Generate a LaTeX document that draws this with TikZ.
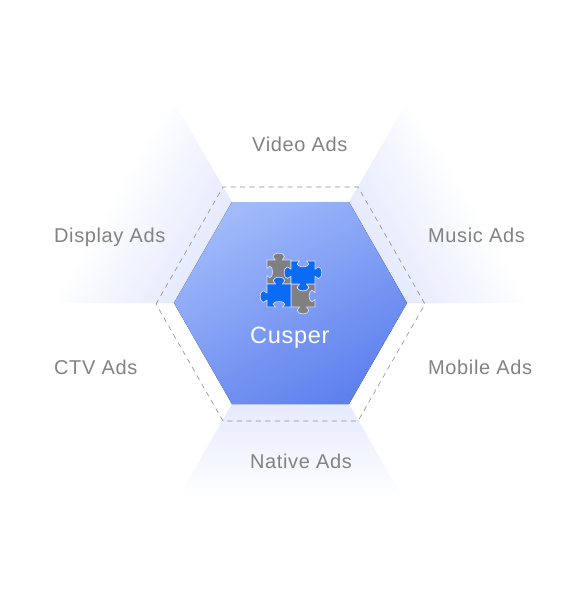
\documentclass[tikz,border=0pt]{standalone}
\usepackage{fontspec}
\setmainfont[LetterSpace=3.1]{Liberation Sans}
\definecolor{lab}{HTML}{828282}
\definecolor{fan}{HTML}{E5EAFD}
\definecolor{hexa}{HTML}{A0BAFA}
\definecolor{hexb}{HTML}{5F81EE}
\definecolor{dashc}{HTML}{8E8E8E}
\definecolor{pgray}{HTML}{808080}
\definecolor{pblue}{HTML}{0A6BF5}
\newcommand{\Kn}[7]{% centre x,y; along dx,dy; outward nx,ny; scale
 -- ({#1+(-3.4)*#3},{#2+(-3.4)*#4})
 .. controls ({#1+(-3.2)*#3+#7*1*#5},{#2+(-3.2)*#4+#7*1*#6}) and ({#1+(-5.8)*#3+#7*1.6*#5},{#2+(-5.8)*#4+#7*1.6*#6}) .. ({#1+(-5.8)*#3+#7*3.5*#5},{#2+(-5.8)*#4+#7*3.5*#6})
 .. controls ({#1+(-5.8)*#3+#7*5.5*#5},{#2+(-5.8)*#4+#7*5.5*#6}) and ({#1+(-3.2)*#3+#7*6.8*#5},{#2+(-3.2)*#4+#7*6.8*#6}) .. ({#1+#7*6.8*#5},{#2+#7*6.8*#6})
 .. controls ({#1+(3.2)*#3+#7*6.8*#5},{#2+(3.2)*#4+#7*6.8*#6}) and ({#1+(5.8)*#3+#7*5.5*#5},{#2+(5.8)*#4+#7*5.5*#6}) .. ({#1+(5.8)*#3+#7*3.5*#5},{#2+(5.8)*#4+#7*3.5*#6})
 .. controls ({#1+(5.8)*#3+#7*1.6*#5},{#2+(5.8)*#4+#7*1.6*#6}) and ({#1+(3.2)*#3+#7*1*#5},{#2+(3.2)*#4+#7*1*#6}) .. ({#1+(3.4)*#3},{#2+(3.4)*#4})
}
\tikzset{
  x=1pt,y=-1pt,
  adlabel/.style={anchor=base west,inner sep=0pt,text=lab,font=\fontsize{20}{23}\selectfont},
  grayp/.style={fill=pgray,draw=white!85!blue,line width=0.7pt,line join=round},
  bluep/.style={fill=pblue,draw=white!85!blue,line width=0.7pt,line join=round},
  fanrect/.style={left color=fan,middle color=fan!33!white,right color=white},
}
\begin{document}
\begin{tikzpicture}
\useasboundingbox (0,0) rectangle (583,608);
\coordinate (i1) at (174,303);
\coordinate (i2) at (232,202);
\coordinate (i3) at (349,202);
\coordinate (i4) at (407,303);
\coordinate (i5) at (349,404);
\coordinate (i6) at (232,404);
\coordinate (o1) at (156,304);
\coordinate (o2) at (223,187);
\coordinate (o3) at (358,187);
\coordinate (o4) at (425,304);
\coordinate (o5) at (358,421);
\coordinate (o6) at (223,421);
% fans
\begin{scope}
 \clip (i4) -- (i3) -- (405,105) -- (560,303) -- cycle;
 \shade[fanrect,transform canvas={shift={(i4)},rotate=30}] (0,-260) rectangle (108,260);
\end{scope}
\begin{scope}
 \clip (i1) -- (i2) -- (176,105) -- (21,303) -- cycle;
 \shade[fanrect,transform canvas={shift={(i1)},rotate=150}] (0,-260) rectangle (108,260);
\end{scope}
\begin{scope}
 \clip (i6) -- (i5) -- (403,498) -- (178,498) -- cycle;
 \shade[fanrect,transform canvas={shift={(i6)},rotate=-90}] (0,-260) rectangle (94,260);
\end{scope}
% hexagon
\fill[top color=hexa,bottom color=hexb,shading angle=30] (i1) -- (i2) -- (i3) -- (i4) -- (i5) -- (i6) -- cycle;
% dashed
\draw[dashc,line width=0.6pt,dash pattern=on 5pt off 4.5pt] (o1) -- (o2) -- (o3) -- (o4) -- (o5) -- (o6) -- cycle;
% puzzle
\draw[grayp] (267,260) \Kn{278.7}{260}{1}{0}{0}{-1}{1} -- (291,260) -- (291,284) -- (267,284) \Kn{267}{272}{0}{-1}{1}{0}{0.8} -- cycle;
\draw[grayp] (291,284) \Kn{303}{284}{1}{0}{0}{1}{1} -- (315,284) \Kn{315}{296}{0}{1}{-1}{0}{0.85} -- (315,307) \Kn{303}{307}{-1}{0}{0}{1}{1} -- (291,307) -- cycle;
\draw[bluep] (291,261) \Kn{303}{261}{1}{0}{0}{1}{0.85} -- (315,261) \Kn{315}{272.7}{0}{1}{1}{0}{1} -- (315,284) \Kn{303}{284}{-1}{0}{0}{1}{1} -- (291,284) \Kn{291}{272.7}{0}{-1}{-1}{0}{1} -- cycle;
\draw[bluep] (267,284) \Kn{279}{284}{1}{0}{0}{-1}{1} -- (291,284) -- (291,307) \Kn{279}{307}{-1}{0}{0}{-1}{0.8} -- (267,307) \Kn{267}{296.5}{0}{-1}{-1}{0}{1} -- cycle;
% labels
\node[adlabel] (video) at (252,151) {Video Ads};
\node[adlabel] (display) at (54,242) {Display Ads};
\node[adlabel] (music) at (428,242) {Music Ads};
\node[adlabel] (ctv) at (54,374) {CTV Ads};
\node[adlabel] (mobile) at (428,374) {Mobile Ads};
\node[adlabel] (native) at (250,468) {Native Ads};
\node[anchor=base west,inner sep=0pt,text=white,font=\fontsize{23.5}{26}\selectfont] (cusper) at (250,343) {Cusper};
\end{tikzpicture}
\end{document}
